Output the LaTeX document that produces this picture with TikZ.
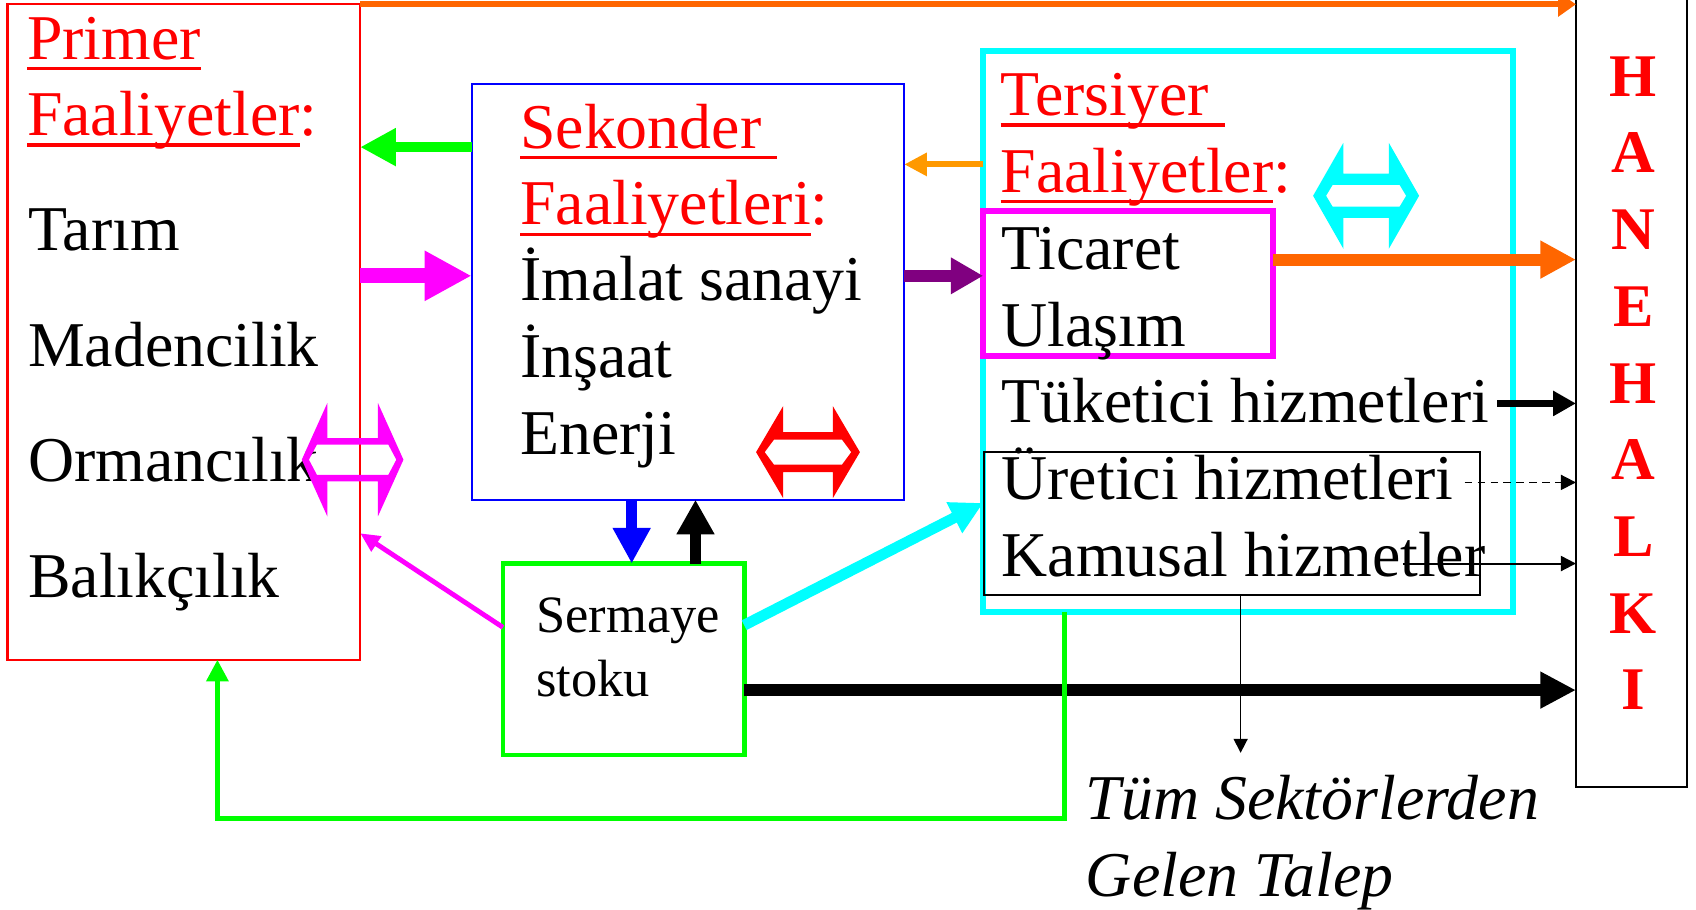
\documentclass[tikz,border=0pt]{standalone}
\usepackage{fontspec}
\setmainfont{Liberation Serif}
\usetikzlibrary{arrows.meta}
\definecolor{cRed}{RGB}{255,0,0}
\definecolor{cBlue}{RGB}{0,0,255}
\definecolor{cCyan}{RGB}{0,255,255}
\definecolor{cMag}{RGB}{255,0,255}
\definecolor{cGreen}{RGB}{0,255,0}
\definecolor{cOrg}{RGB}{255,102,0}
\definecolor{cOrgB}{RGB}{255,153,0}
\definecolor{cPurp}{RGB}{128,0,128}
\newcommand\myul[1]{\setbox0\hbox{#1}\rlap{\rule[-0.17em]{\wd0}{0.052em}}\box0}
\begin{document}
\begin{tikzpicture}[x=1pt,y=-1pt,
  box/.style={draw, rectangle, inner sep=0pt, outer sep=0pt},
  txt/.style={anchor=base west, inner sep=0pt, outer sep=0pt, font=\fontsize{59}{70}\selectfont},
  hdr/.style={txt, text=cRed},
  sm/.style={txt, font=\fontsize{48.5}{58}\selectfont},
  ital/.style={txt, font=\fontsize{59}{70}\selectfont\itshape},
  hl/.style={anchor=base, inner sep=0pt, outer sep=0pt, font=\fontsize{56}{60}\selectfont\bfseries, text=cRed}
]
\useasboundingbox (0,0) rectangle (1568,841);
\fill[white] (0,0) rectangle (1568,841);

% boxes
\node[box, draw=cRed, line width=2pt, minimum width=326pt, minimum height=606pt] (prim) at (170,307) {};
\node[box, draw=cBlue, line width=1.8pt, minimum width=400pt, minimum height=384pt] (sek) at (636,270) {};
\node[box, draw=cCyan, line width=6pt, minimum width=490pt, minimum height=519pt] (ter) at (1154,306.5) {};
\node[box, draw=cMag, line width=5.5pt, minimum width=268pt, minimum height=134pt] (tic) at (1043,262) {};
\node[box, draw=black, line width=1.5pt, minimum width=458pt, minimum height=132pt] (ure) at (1139,484) {};
\node[box, draw=cGreen, line width=4.5pt, minimum width=223pt, minimum height=177pt] (ser) at (576.5,609.5) {};
\node[box, draw=black, line width=2pt, minimum width=103pt, minimum height=735pt] (hh) at (1508.5,360) {};

% texts
\node[hdr] (t1) at (25,55) {\myul{Primer}};
\node[hdr] (t2) at (25,125.7) {\myul{Faaliyetler}:};
\node[txt] (t3) at (26,232) {Tarım};
\node[txt] (t4) at (26,339) {Madencilik};
\node[txt] (t5) at (26,445) {Ormancılık};
\node[txt] (t6) at (26,552) {Balıkçılık};

\node[hdr] (s1) at (481,137) {\myul{Sekonder\ }};
\node[hdr] (s2) at (481,208) {\myul{Faaliyetleri}:};
\node[txt] (s3) at (481,278) {İmalat sanayi};
\node[txt] (s4) at (481,349) {İnşaat};
\node[txt] (s5) at (481,420.5) {Enerji};

\node[hdr] (r1) at (925,107) {\myul{Tersiyer\ }};
\node[hdr] (r2) at (925,178) {\myul{Faaliyetler}:};
\node[txt] (r3) at (926,249) {Ticaret};
\node[txt] (r4) at (926,320.5) {Ulaşım};
\node[txt] (r5) at (926,391) {Tüketici hizmetleri};
\node[txt] (r6) at (926,462) {Üretici hizmetleri};
\node[txt] (r7) at (926,533) {Kamusal hizmetler};

\node[sm] (m1) at (496,585) {Sermaye};
\node[sm] (m2) at (496,644) {stoku};

\node[ital] (d1) at (1004,758) {Tüm Sektörlerden};
\node[ital] (d2) at (1004,829) {Gelen Talep};

\foreach \l [count=\i from 0] in {H,A,N,E,H,A,L,K,I}
  \node[hl] (hl\i) at (1510,{89+70.9*\i}) {\l};

% connectors
\draw[cOrg, line width=5.5pt, -{Triangle[length=16.5pt,width=22pt]}] (prim.north east) -- (hh.west |- prim.north east);
\draw[cGreen, line width=9.5pt, -{Triangle[length=33pt,width=33pt]}] (sek.west |- 0,136) -- (prim.east |- 0,136);
\draw[cMag, line width=14pt, -{Triangle[length=43.5pt,width=43.5pt]}] (prim.east |- 0,255) -- (sek.west |- 0,255);
\draw[cOrgB, line width=5.5pt, -{Triangle[length=21pt,width=20.5pt]}] (ter.west |- 0,152) -- (sek.east |- 0,152);
\draw[cPurp, line width=11pt, -{Triangle[length=30pt,width=32pt]}] (sek.east |- 0,255) -- (tic.west |- 0,255);
\draw[cOrg, line width=11pt, -{Triangle[length=33pt,width=33pt]}] (tic.east |- 0,240) -- (hh.west |- 0,240);
\coordinate (tk) at (1384,373);
\draw[black, line width=7pt, -{Triangle[length=21pt,width=22pt]}] (tk) -- (hh.west |- tk);
\coordinate (ur) at (1354,446);
\draw[black, line width=1.5pt, dash pattern=on 7pt off 5pt, -{Triangle[length=14pt,width=14pt]}] (ur) -- (hh.west |- ur);
\coordinate (km) at (1297,521);
\draw[black, line width=1.8pt, -{Triangle[length=14pt,width=14pt]}] (km) -- (hh.west |- km);
\draw[cBlue, line width=10pt, -{Triangle[length=33pt,width=33pt]}] (sek.south -| 584,0) -- (ser.north -| 584,0);
\draw[black, line width=10pt, -{Triangle[length=32pt,width=33pt]}] (ser.north -| 643,0) -- (sek.south -| 643,0);
\draw[cMag, line width=4.5pt, -{Triangle[length=18pt,width=16pt]}] (ser.west |- 0,580) -- (prim.east |- 0,493);
\draw[cCyan, line width=10pt, -{Triangle[length=30pt,width=30pt]}] (ser.east |- 0,578) -- (ter.west |- 0,465);
\draw[black, line width=10.5pt, -{Triangle[length=33pt,width=32pt]}] (ser.east |- 0,638) -- (hh.west |- 0,638);
\draw[cGreen, line width=4.3pt, -{Triangle[length=20pt,width=20pt]}] (ter.south -| 984,0) -- (984,757) -- (201,757) -- (prim.south -| 201,0);
\coordinate (dem) at (1147,696);
\draw[black, line width=1.5pt, -{Triangle[length=13pt,width=13pt]}] (ure.south -| dem) -- (dem);

% hollow double arrows
\fill[cMag, even odd rule, shift={(326,425)}]
  (-47,0) -- (-23.4,-52.4) -- (-23.4,-20) -- (23.4,-20) -- (23.4,-52.4) -- (47,0) -- (23.4,52.4) -- (23.4,20) -- (-23.4,20) -- (-23.4,52.4) -- cycle
  (-40.4,0) -- (-33,-14) -- (33,-14) -- (40.4,0) -- (33,14) -- (-33,14) -- cycle;
\fill[cRed, even odd rule, shift={(747,418)}]
  (-48,0) -- (-23,-42.5) -- (-23,-18.5) -- (23,-18.5) -- (23,-42.5) -- (48,0) -- (23,42.5) -- (23,18.5) -- (-23,18.5) -- (-23,42.5) -- cycle
  (-40,0) -- (-31.5,-11.5) -- (31.5,-11.5) -- (40,0) -- (31.5,11.5) -- (-31.5,11.5) -- cycle;
\fill[cCyan, even odd rule, shift={(1263,181)}]
  (-49,0) -- (-21,-49) -- (-21,-20.4) -- (21,-20.4) -- (21,-49) -- (49,0) -- (21,49) -- (21,20.4) -- (-21,20.4) -- (-21,49) -- cycle
  (-37,0) -- (-31,-10) -- (31,-10) -- (37,0) -- (31,10) -- (-31,10) -- cycle;
\end{tikzpicture}
\end{document}
